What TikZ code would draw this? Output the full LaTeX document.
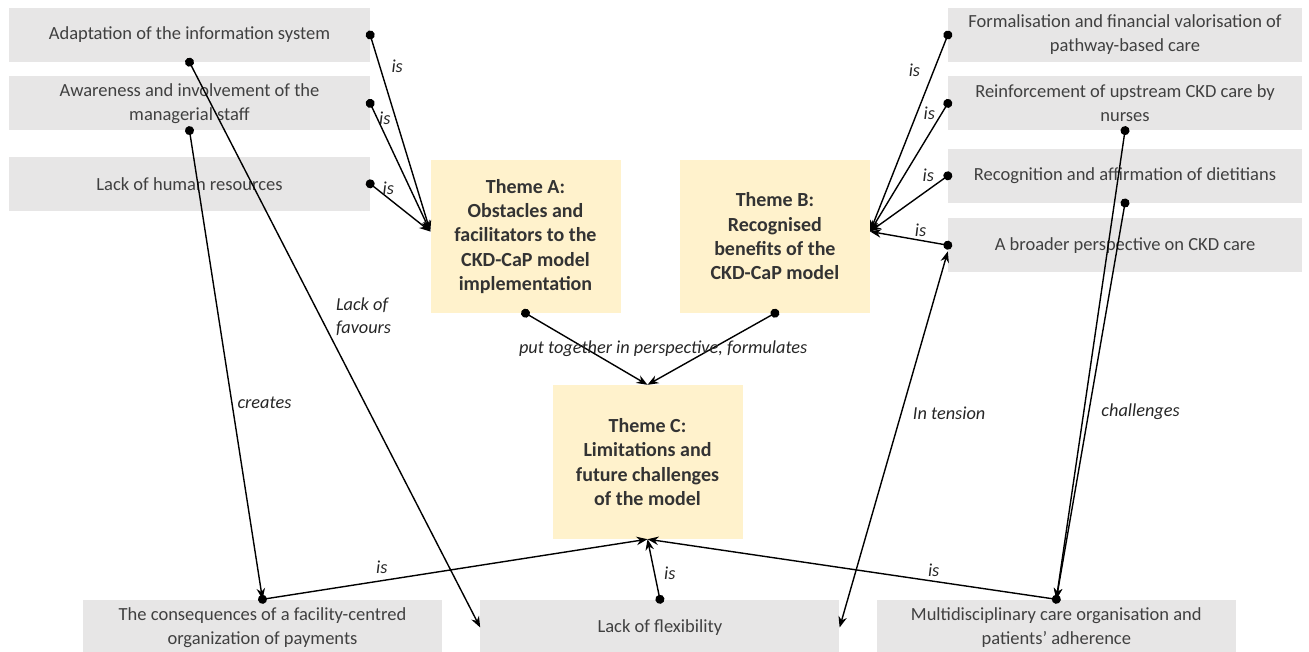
\documentclass[tikz,border=0pt]{standalone}
\usepackage{fontspec}
\setmainfont{Carlito}
\usetikzlibrary{arrows.meta,positioning}
\definecolor{boxgray}{HTML}{E7E6E6}
\definecolor{themeyellow}{HTML}{FFF2CC}
\definecolor{textgray}{HTML}{404040}
\definecolor{themetext}{HTML}{333333}

\begin{document}
\begin{tikzpicture}[x=1pt,y=-1pt,>={Stealth[length=11pt,width=8.5pt]},
    link/.style={{Circle[length=9pt]}->,line width=1.4pt,shorten <=-4.5pt},
    both link/.style={<->,line width=1.4pt},
    info node/.style={fill=boxgray,text=textgray,minimum width=361pt,minimum height=54pt,inner sep=0pt,align=center,font=\fontsize{18.5}{24}\selectfont},
    theme node/.style={fill=themeyellow,text=themetext,minimum width=190pt,minimum height=153pt,inner sep=0pt,align=center,font=\fontsize{20}{24.3}\selectfont\bfseries},
    link label/.style={inner sep=1pt,text=black!85,font=\fontsize{18.3}{23}\selectfont\itshape}]

    \useasboundingbox (0,0) rectangle (1309,652);

    \node[info node] (1) at (189.5,35) {Adaptation of the information system};
    \node[info node] (2) [below=14pt of 1] {Awareness and involvement of the\\managerial staff};
    \node[info node] (3) [below=26pt of 2] {Lack of human resources};

    \node[info node,minimum width=354pt] (4) at (1125,35) {Formalisation and financial valorisation of\\pathway-based care};
    \node[info node,minimum width=354pt] (5) [below=14pt of 4] {Reinforcement of upstream CKD care by\\nurses};
    \node[info node,minimum width=354pt] (6) [below=18pt of 5] {Recognition and affirmation of dietitians};
    \node[info node,minimum width=354pt] (7) [below=15pt of 6] {A broader perspective on CKD care};

    \node[theme node] (8) at (525.5,236.5) {Theme A:\\Obstacles and\\facilitators to the\\CKD-CaP model\\implementation};
    \node[theme node] (9) [right=59pt of 8] {Theme B:\\Recognised\\benefits of the\\CKD-CaP model};
    \node[theme node,minimum height=154pt] (10) at (647.5,462) {Theme C:\\Limitations and\\future challenges\\of the model};

    \node[info node,minimum width=359pt,minimum height=56pt] (11) at (262.5,627.5) {The consequences of a facility-centred\\organization of payments};
    \node[info node,minimum width=359pt,minimum height=56pt] (12) [right=38pt of 11] {Lack of flexibility};
    \node[info node,minimum width=359pt,minimum height=56pt] (13) [right=37pt of 12] {Multidisciplinary care organisation and\\patients' adherence};

    \path (1.east) edge[link] node[link label,pos=0.16,right=10pt] {is} (8.177);
    \path (2.east) edge[link] node[link label,pos=0.12,right] {is} (8.177);
    \path (3.east) edge[link] node[link label,pos=0.3,above=2pt] {is} (8.177);
    \path (1.south) edge[link] node[link label,pos=0.45,right=14pt,align=left] {Lack of\\favours} (12.west);
    \path (2.south) edge[link] node[link label,pos=0.58,right=4pt] {creates} (11.north);

    \path (8.south) edge[link] (10.north);
    \path (9.south) edge[link] node[link label,pos=0.5,xshift=-48pt] {put together in perspective, formulates} (10.north);

    \path (4.west) edge[link] node[link label,pos=0.18,left=12pt] {is} (9.3);
    \path (5.west) edge[link] node[link label,pos=0.08,left=5pt] {is} (9.3);
    \path (6.west) edge[link] node[link label,pos=0.25,above=6pt] {is} (9.3);
    \path (7.west) edge[link] node[link label,pos=0.35,above=2pt] {is} (9.3);

    \path (12.east) edge[both link] node[link label,pos=0.57,right=10pt] {In tension} (7.182);
    \path (5.south) edge[link] node[link label,pos=0.6,right=16pt] {challenges} (13.north);
    \path (6.south) edge[link] (13.north);

    \path (11.north) edge[link] node[link label,pos=0.31,above=5pt] {is} (10.south);
    \path (12.north) edge[link] node[link label,pos=0.44,right=8pt] {is} (10.south);
    \path (13.north) edge[link] node[link label,pos=0.3,above=3pt] {is} (10.south);
\end{tikzpicture}
\end{document}
